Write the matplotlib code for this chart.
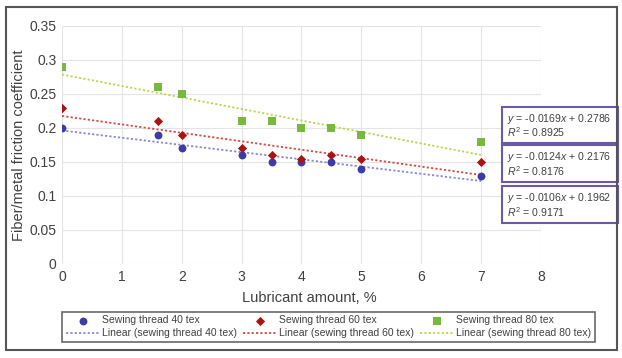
import matplotlib
matplotlib.use("Agg")
import matplotlib.pyplot as plt
from matplotlib.patches import Rectangle
import numpy as np

plt.rcParams['font.family'] = ['Liberation Sans', 'DejaVu Sans']
plt.rcParams['mathtext.fontset'] = 'custom'
plt.rcParams['mathtext.rm'] = 'Liberation Sans'
plt.rcParams['mathtext.it'] = 'Liberation Sans:italic'

x = [0, 1.6, 2, 3, 3.5, 4, 4.5, 5, 7]
y40 = [0.20, 0.19, 0.17, 0.16, 0.15, 0.15, 0.15, 0.14, 0.13]
y60 = [0.23, 0.21, 0.19, 0.17, 0.16, 0.155, 0.16, 0.155, 0.15]
y80 = [0.29, 0.26, 0.25, 0.21, 0.21, 0.20, 0.20, 0.19, 0.18]
slopes = [-0.0106, -0.0124, -0.0169]
intercepts = [0.1962, 0.2176, 0.2786]
r2 = ["0.9171", "0.8176", "0.8925"]
names = ["Sewing thread 40 tex", "Sewing thread 60 tex", "Sewing thread 80 tex"]
lin_names = ["Linear (sewing thread 40 tex)", "Linear (sewing thread 60 tex)", "Linear (sewing thread 80 tex)"]
yticks = [0, 0.05, 0.1, 0.15, 0.2, 0.25, 0.3, 0.35]
ytick_labels = ["0", "0.05", "0.1", "0.15", "0.2", "0.25", "0.3", "0.35"]
xticks = [0, 1, 2, 3, 4, 5, 6, 7, 8]

marker_colors = ["#3c3ca8", "#a81414", "#78b83c"]
line_colors = ["#8888d8", "#d84848", "#b8d850"]
markers = ["o", "D", "s"]
msizes = [32, 22, 36]

fig = plt.figure(figsize=(6.22, 3.58), dpi=100)
ax = fig.add_axes([0.0997, 0.2626, 0.770, 0.665])

handles = []
for i, ys in enumerate([y40, y60, y80]):
    sc = ax.scatter(x, ys, marker=markers[i], s=msizes[i], color=marker_colors[i],
                    zorder=3, label=names[i], linewidths=0)
    xl = np.array([0, 7])
    ln, = ax.plot(xl, slopes[i] * xl + intercepts[i], linestyle=(0, (1.2, 1.2)),
                  color=line_colors[i], lw=1.3, zorder=2, label=lin_names[i])
    handles += [sc, ln]

ax.set_xlim(0, 8)
ax.set_ylim(0, 0.35)
ax.set_xticks(xticks)
ax.set_yticks(yticks)
ax.set_yticklabels(ytick_labels)
ax.grid(True, color="#e4e4e4", lw=0.8)
ax.set_axisbelow(True)
for s in ax.spines.values():
    s.set_visible(False)
ax.tick_params(length=0, labelsize=10, colors="#404040", pad=4)
ax.set_xlabel("Lubricant amount, %", fontsize=10.5, color="#404040")
ax.xaxis.set_label_coords(0.516, -0.115)
ax.set_ylabel("Fiber/metal friction coefficient", fontsize=10.5, color="#404040")
ax.yaxis.set_label_coords(-0.076, 0.5)

leg = fig.legend(handles, [h.get_label() for h in handles], ncol=3, loc="center",
                 bbox_to_anchor=(0.528, 0.087), fontsize=7.5, frameon=True,
                 fancybox=False, edgecolor="#444444", handlelength=3.3,
                 handletextpad=0.15, columnspacing=0.6, labelspacing=0.3,
                 borderpad=0.35, borderaxespad=0)
leg.get_frame().set_linewidth(1.2)
for t in leg.get_texts():
    t.set_color("#404040")

# equation boxes
box_tops = [107, 145, 186]
box_h = [36, 37, 37]
order = [2, 1, 0]
for top, hh, i in zip(box_tops, box_h, order):
    x0, x1 = 502 / 622, 618 / 622
    y0 = 1 - (top + hh) / 358
    h = hh / 358
    fig.patches.append(Rectangle((x0, y0), x1 - x0, h, transform=fig.transFigure,
                                 facecolor="white", edgecolor="#6a5aa8", lw=1.5))
    fig.text(x0 + 0.008, y0 + h * 0.68,
             r"$\it{y}$" + f" = {slopes[i]:.4f}" + r"$\it{x}$" + f" + {intercepts[i]:.4f}",
             fontsize=7.6, color="#404040", va="center")
    fig.text(x0 + 0.008, y0 + h * 0.3, r"$\it{R}^{2}$" + " = " + r2[i],
             fontsize=7.6, color="#404040", va="center")

fig.patches.append(Rectangle((6 / 622, 1 - 350 / 358), 611 / 622, 343 / 358,
                             transform=fig.transFigure, fill=False,
                             edgecolor="#555555", lw=1.5))

fig.savefig("out.png", dpi=100)
